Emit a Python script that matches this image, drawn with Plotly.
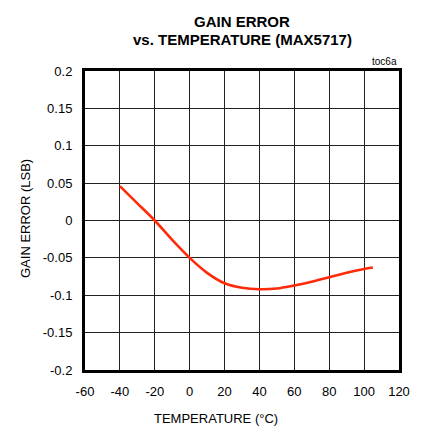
import plotly.graph_objects as go

temperature = [-40, -30, -20, -10, 0, 10, 20, 30, 40, 50, 60, 70, 80, 90, 100, 105]
gain_error = [0.046, 0.023, 0.0, -0.026, -0.050, -0.070, -0.084, -0.090, -0.092, -0.091, -0.087, -0.082, -0.076, -0.070, -0.065, -0.063]

x_ticks = [-60, -40, -20, 0, 20, 40, 60, 80, 100, 120]
y_ticks = [-0.2, -0.15, -0.1, -0.05, 0, 0.05, 0.1, 0.15, 0.2]
y_labels = ["-0.2", "-0.15", "-0.1", "-0.05", "0", "0.05", "0.1", "0.15", "0.2"]

font_family = "Liberation Sans, Arial, sans-serif"

fig = go.Figure()
fig.add_trace(go.Scatter(
    x=temperature, y=gain_error, mode="lines",
    line=dict(color="#FF2A0A", width=2.6, shape="spline", smoothing=0.8),
    hoverinfo="skip", showlegend=False,
))

axis_common = dict(
    showgrid=True, gridcolor="#222222", gridwidth=1,
    showline=True, linecolor="black", linewidth=3, mirror=True,
    ticks="", zeroline=False, tickfont=dict(size=13, color="black"),
    ticklabelstandoff=7,
)

fig.update_layout(
    width=414, height=419,
    margin=dict(l=77, r=21, t=63, b=57),
    paper_bgcolor="white", plot_bgcolor="white",
    font=dict(family=font_family, color="black", size=13),
    xaxis=dict(range=[-60, 120], tickvals=x_ticks,
               ticktext=[str(v) for v in x_ticks], **axis_common),
    yaxis=dict(range=[-0.2, 0.2], tickvals=y_ticks, ticktext=y_labels,
               **axis_common),
    annotations=[
        dict(text="<b>GAIN ERROR</b>", x=0.5, y=1, xref="paper", yref="paper",
             xanchor="center", yanchor="middle", yshift=50, showarrow=False,
             font=dict(size=15)),
        dict(text="<b>vs. TEMPERATURE (MAX5717)</b>", x=0.5, y=1, xref="paper", yref="paper",
             xanchor="center", yanchor="middle", yshift=32, showarrow=False,
             font=dict(size=15)),
        dict(text="toc6a", x=1.0, y=1.0, xref="paper", yref="paper",
             xanchor="right", yanchor="bottom", yshift=2, showarrow=False,
             font=dict(size=10)),
        dict(text="TEMPERATURE (°C)", x=0.416, y=0, xref="paper", yref="paper",
             xanchor="center", yanchor="middle", yshift=-48, showarrow=False,
             font=dict(size=13)),
        dict(text="GAIN ERROR (LSB)", x=0, y=0.505, xref="paper", yref="paper",
             xanchor="center", yanchor="middle", xshift=-60, textangle=-90,
             showarrow=False, font=dict(size=13)),
    ],
)

fig.write_html("out.html")
